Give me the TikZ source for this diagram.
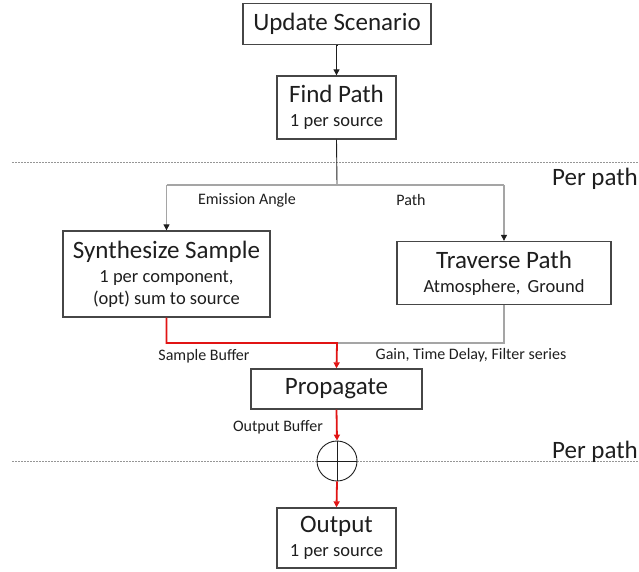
\documentclass[tikz,border=0pt]{standalone}
\usepackage{fontspec}
\setmainfont{Carlito}
\usetikzlibrary{arrows.meta,calc}
\definecolor{boxline}{RGB}{70,70,70}
\definecolor{txt}{RGB}{30,30,30}
\definecolor{conn}{RGB}{165,165,165}
\definecolor{buf}{RGB}{225,20,20}
\definecolor{sep}{RGB}{150,150,150}
\newcommand{\steptitle}[1]{{\fontsize{25}{22}\selectfont #1}}
\tikzset{
  stepbox/.style={draw=boxline, line width=1.3pt, fill=white, inner sep=0pt,
    align=center, text=txt, font=\fontsize{18.5}{22}\selectfont},
  bigtxt/.style={font=\fontsize{25}{27}\selectfont},
  lbl/.style={font=\fontsize{16}{18}\selectfont, text=txt, inner sep=0pt},
  side/.style={font=\fontsize{25}{27}\selectfont, text=txt, inner sep=0pt},
  tip/.style={-{Triangle[length=6pt,width=6pt]}},
  darkline/.style={draw=txt, line width=0.9pt},
  grayline/.style={draw=conn, line width=1.3pt},
  redline/.style={draw=buf, line width=1.8pt},
  divider/.style={draw=sep, line width=0.8pt, dash pattern=on 1.5pt off 1.5pt},
}
\begin{document}
\begin{tikzpicture}[x=1pt,y=-1pt]
  \useasboundingbox (0,0) rectangle (639,571);

  % stage separators
  \draw[divider] (12,162) -- (639,162);
  \draw[divider] (12,461) -- (639,461);
  \node[side] (pp1) at (595,179) {Per path};
  \node[side] (pp2) at (595,452) {Per path};

  % processing steps
  \node[stepbox, bigtxt, minimum width=188pt, minimum height=41pt] (upd) at (337,24)
    {Update Scenario};
  \node[stepbox, minimum width=119pt, minimum height=63pt] (find) at (336.5,107.5)
    {\steptitle{Find Path}\\[2pt]1 per source};
  \node[stepbox, minimum width=207pt, minimum height=86pt] (synth) at (166.5,274)
    {\steptitle{Synthesize Sample}\\[2pt]1 per component,\\(opt) sum to source};
  \node[stepbox, minimum width=214pt, minimum height=63pt] (trav) at (504,273)
    {\steptitle{Traverse Path}\\[2pt]Atmosphere,\, Ground};
  \node[stepbox, bigtxt, minimum width=171pt, minimum height=40pt] (prop) at (336.5,389)
    {Propagate};
  \node[stepbox, minimum width=119pt, minimum height=60pt] (out) at (336.5,538)
    {\steptitle{Output}\\[2pt]1 per source};

  % summing junction
  \node[draw=txt, line width=0.9pt, fill=white, circle, minimum size=40pt, inner sep=0pt]
    (sum) at (337,461) {};
  \draw[darkline] (sum.north) -- (sum.south);
  \draw[darkline] (sum.west) -- (sum.east);

  % control flow
  \coordinate (split) at (337,185);
  \coordinate (merge) at (337,343);
  \draw[darkline, tip] (upd.south) -- (find.south |- upd.south) -- (find.north);
  \draw[darkline] (find.south) -- (split);
  \draw[grayline] (synth.north |- split) -- (trav.north |- split);
  \draw[grayline] (synth.north |- split) -- ($(synth.north)+(0,-3)$);
  \draw[grayline] (trav.north |- split) -- ($(trav.north)+(0,-3)$);
  \draw[darkline, tip] ($(synth.north)+(0,-4)$) -- (synth.north);
  \draw[darkline, tip] ($(trav.north)+(0,-4)$) -- (trav.north);

  % buffers
  \draw[grayline] (trav.south) -- (trav.south |- merge) -- (merge);
  \draw[redline, tip] (synth.south) -- (synth.south |- merge) -- (merge) -- (prop.north);
  \draw[redline, tip] (prop.south) -- (sum.north);
  \draw[redline, tip] (sum.south) -- (out.north);

  % connector labels
  \node[lbl] (lea) at (247,200) {Emission Angle};
  \node[lbl] (lpa) at (411,200) {Path};
  \node[lbl] (lsb) at (204,356) {Sample Buffer};
  \node[lbl] (lgt) at (471,355) {Gain, Time Delay, Filter series};
  \node[lbl] (lob) at (278,427) {Output Buffer};
\end{tikzpicture}
\end{document}
